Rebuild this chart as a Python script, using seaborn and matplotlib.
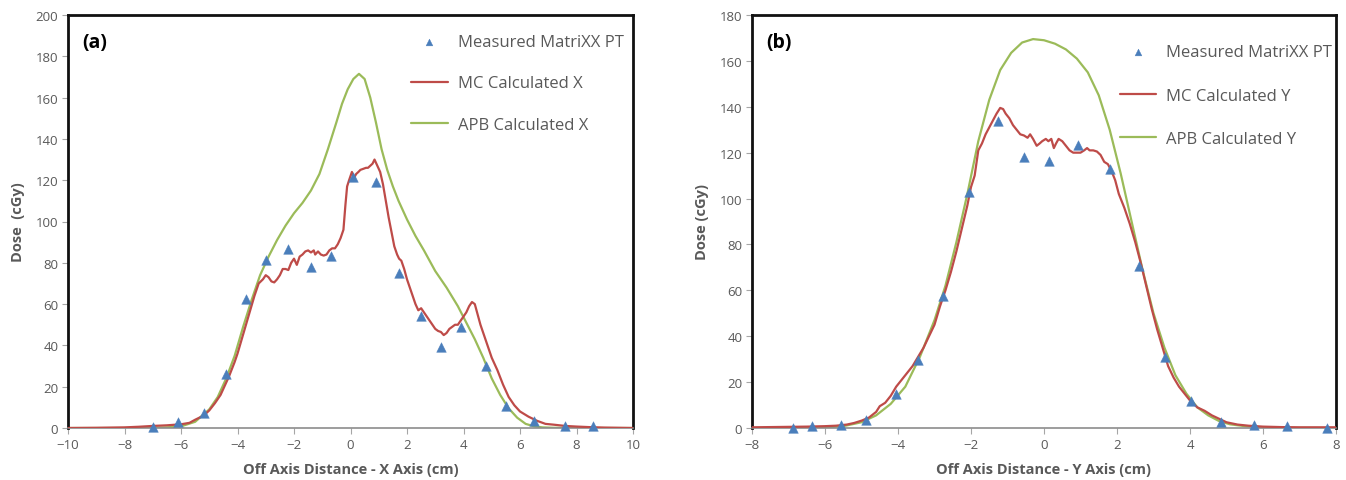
import matplotlib
matplotlib.use("Agg")
import matplotlib.pyplot as plt
import seaborn as sns
import pandas as pd

# ---------------- Panel (a): X axis ----------------
meas_x_pos = [-7.0, -6.1, -5.2, -4.4, -3.7, -3.0, -2.2, -1.4, -0.7, 0.1, 0.9, 1.72,
              2.5, 3.2, 3.9, 4.8, 5.5, 6.5, 7.6, 8.6]
meas_x_dose = [0.6, 2.7, 7.1, 26, 62.5, 81.4, 86.7, 78, 83.3, 121.5, 119, 75,
               54, 39, 49, 30.2, 10.8, 3.5, 0.8, 0.8]

mc_x_pos = [-10, -9, -8, -7.5, -7, -6.5, -6, -5.7, -5.5, -5.2, -5, -4.8, -4.6, -4.5,
            -4.3, -4.1, -4, -3.85, -3.7, -3.55, -3.4, -3.25, -3.1, -3.0, -2.9, -2.8,
            -2.7, -2.6, -2.5, -2.4, -2.3, -2.2, -2.1, -2.0, -1.9, -1.8, -1.7, -1.6,
            -1.5, -1.4, -1.3, -1.25, -1.15, -1.05, -0.95, -0.85, -0.75, -0.65, -0.55,
            -0.45, -0.35, -0.25, -0.18, -0.12, -0.05, 0.05, 0.12, 0.2, 0.28, 0.35,
            0.45, 0.55, 0.62, 0.7, 0.78, 0.85, 0.95, 1.05, 1.15, 1.25, 1.35, 1.45,
            1.55, 1.65, 1.72, 1.8, 1.9, 2.0, 2.1, 2.2, 2.3, 2.4, 2.5, 2.6, 2.7, 2.8,
            2.9, 3.0, 3.1, 3.2, 3.3, 3.4, 3.5, 3.6, 3.7, 3.8, 3.9, 4.0, 4.1, 4.2, 4.3,
            4.4, 4.5, 4.6, 4.8, 5.0, 5.2, 5.4, 5.6, 5.8, 6.0, 6.3, 6.6, 6.9, 7.2, 7.6,
            8.0, 8.5, 9, 10]
mc_x_dose = [0, 0.1, 0.3, 0.6, 1.0, 1.3, 1.8, 2.5, 4, 6, 8.5, 12, 16, 19, 25, 32, 36,
             43, 50, 57, 64, 70, 72, 74, 73, 71, 70.5, 72, 74, 77, 77, 76.5, 80, 82, 79,
             83, 84, 85.5, 86, 85, 86, 84, 85.5, 84, 83.5, 84, 86, 87, 87, 89, 92, 96,
             108, 117, 120, 124, 121, 123, 124, 125, 125.5, 126, 126, 127, 128, 130,
             127, 124, 118, 110, 102, 95, 88, 84, 82, 81, 77, 72, 68, 64, 60, 57, 58,
             56, 54, 52, 50, 48, 47, 46.5, 45, 46, 48, 49, 50, 50, 52, 54, 56, 59, 61,
             60, 55, 50, 42, 34, 28, 21, 15, 11, 8, 5.5, 3.5, 2, 1.6, 1.0, 0.7, 0.4,
             0.2, 0]

apb_x_pos = [-10, -8, -7, -6.5, -6, -5.5, -5, -4.7, -4.4, -4.1, -3.8, -3.5, -3.2,
             -2.9, -2.6, -2.3, -2.0, -1.7, -1.4, -1.1, -0.8, -0.5, -0.3, -0.1, 0.1,
             0.3, 0.5, 0.7, 0.9, 1.1, 1.3, 1.5, 1.7, 2.0, 2.3, 2.6, 3.0, 3.4, 3.8, 4.1,
             4.4, 4.7, 5.0, 5.3, 5.6, 5.9, 6.2, 6.5, 6.8, 7.2, 8, 10]
apb_x_dose = [0, 0, 0.1, 0.3, 0.8, 3, 9, 15, 24, 35, 49, 62, 74, 83, 91, 98, 104,
              109, 115, 123, 135, 148, 157, 164, 169, 171.5, 169, 160, 148, 135, 125,
              117, 110, 101, 93, 86, 76, 68, 59, 51, 43, 34, 24, 16, 9.5, 5, 2, 0.8,
              0.3, 0.1, 0, 0]

# ---------------- Panel (b): Y axis ----------------
meas_y_pos = [-6.89, -6.36, -5.57, -4.87, -4.06, -3.44, -2.77, -2.05, -1.25, -0.56,
              0.14, 0.94, 1.82, 2.61, 3.32, 4.02, 4.85, 5.75, 6.65, 7.75]
meas_y_dose = [0, 0.7, 1.2, 3.6, 14.8, 29.7, 57.5, 102.8, 134, 118.3, 116.3, 123.4,
               113, 70.5, 30.8, 11.7, 2.5, 1.4, 0.7, 0]

mc_y_pos = [-8, -7, -6.5, -6, -5.7, -5.4, -5.2, -5.0, -4.8, -4.6, -4.5, -4.35, -4.2,
            -4.05, -3.9, -3.75, -3.6, -3.45, -3.3, -3.15, -3.0, -2.85, -2.7, -2.55,
            -2.4, -2.25, -2.1, -2.0, -1.9, -1.8, -1.7, -1.6, -1.5, -1.4, -1.3, -1.2,
            -1.12, -1.05, -0.95, -0.85, -0.75, -0.65, -0.55, -0.45, -0.38, -0.3, -0.2,
            -0.12, -0.05, 0.05, 0.12, 0.2, 0.27, 0.33, 0.4, 0.5, 0.6, 0.7, 0.8, 0.9,
            1.0, 1.1, 1.18, 1.25, 1.35, 1.45, 1.55, 1.65, 1.75, 1.85, 1.95, 2.05, 2.2,
            2.35, 2.5, 2.65, 2.8, 2.95, 3.1, 3.25, 3.4, 3.55, 3.7, 3.85, 4.0, 4.2, 4.4,
            4.6, 4.8, 5.0, 5.3, 5.6, 6.0, 6.5, 7, 8]
mc_y_dose = [0.3, 0.5, 0.6, 0.8, 1.0, 1.5, 2.2, 3.2, 4.5, 7, 9.5, 11, 14, 18, 21,
             24, 27, 31, 35, 40, 45, 53, 60, 68, 77, 87, 97, 105, 110, 121, 124,
             128, 131, 134, 137, 139.5, 139, 137, 135, 132, 130, 128, 127.5, 126.5,
             128, 126, 123, 124, 125, 126, 125, 126, 122, 124, 126, 125, 123, 121,
             120, 120, 120, 121, 122, 121, 121, 120.5, 119, 116, 115, 112, 108, 102,
             96, 89, 81, 72, 62, 52, 43, 35, 27, 22, 18, 15, 12, 9, 7.5, 5.5, 4, 2.5,
             1.5, 1.0, 0.6, 0.4, 0.3, 0.3]

apb_y_pos = [-8, -6.5, -6, -5.5, -5.0, -4.6, -4.2, -3.8, -3.4, -3.0, -2.7, -2.4,
             -2.1, -1.8, -1.5, -1.2, -0.9, -0.6, -0.3, 0.0, 0.3, 0.6, 0.9, 1.2, 1.5,
             1.8, 2.1, 2.4, 2.7, 3.0, 3.3, 3.6, 3.9, 4.2, 4.5, 4.8, 5.1, 5.5, 6.0,
             6.5, 8]
apb_y_dose = [0, 0.1, 0.2, 0.8, 2.5, 5.5, 10.5, 18, 31, 47, 62, 81, 102, 125, 143,
              156, 163.5, 168, 169.5, 169, 167.5, 165, 161, 155, 145, 130, 111, 90,
              69, 50, 35, 23, 15, 9, 5.5, 3, 1.6, 0.8, 0.3, 0.1, 0]

# ---------------- Styling ----------------
sns.set_theme(style="white")
plt.rcParams['font.family'] = ['Open Sans', 'DejaVu Sans']

BLUE = "#4A7EBB"
RED = "#BE4B48"
GREEN = "#9BBB59"
GRAY = "#595959"

fig = plt.figure(figsize=(13.46, 4.81), dpi=100)
ax1 = fig.add_axes([68 / 1346, 1 - 429 / 481, (633 - 68) / 1346, (429 - 16) / 481])
ax2 = fig.add_axes([752 / 1346, 1 - 429 / 481, (1336 - 752) / 1346, (429 - 16) / 481])


def draw(ax, mpos, mdose, cpos, cdose, apos, adose, axis_name, xlim, ylim, yticks,
         xticks, tag, dose_label, legend_anchor, labelspacing):
    df_m = pd.DataFrame({"x": mpos, "y": mdose})
    df_c = pd.DataFrame({"x": cpos, "y": cdose})
    df_a = pd.DataFrame({"x": apos, "y": adose})
    sns.lineplot(data=df_a, x="x", y="y", ax=ax, color=GREEN, linewidth=1.6,
                 label=f"APB Calculated {axis_name}", sort=False, zorder=2)
    sns.lineplot(data=df_c, x="x", y="y", ax=ax, color=RED, linewidth=1.6,
                 label=f"MC Calculated {axis_name}", sort=False, zorder=3)
    sns.scatterplot(data=df_m, x="x", y="y", ax=ax, color=BLUE, marker="^", s=48,
                    edgecolor=BLUE, linewidth=0.3, label="Measured MatriXX PT",
                    zorder=4, clip_on=False)
    ax.set_xlim(*xlim)
    ax.set_ylim(*ylim)
    ax.set_xticks(xticks)
    ax.set_yticks(yticks)
    ax.tick_params(axis="both", which="both", direction="out", length=4, width=0.8,
                   colors="#A6A6A6", labelcolor=GRAY, labelsize=9.5, pad=3,
                   bottom=True, left=True)
    for s in ["top", "right", "left"]:
        ax.spines[s].set_color("#111111")
        ax.spines[s].set_linewidth(2.0)
    ax.spines["bottom"].set_color("#8C8C8C")
    ax.spines["bottom"].set_linewidth(1.2)
    ax.set_xlabel(f"Off Axis Distance - {axis_name} Axis (cm)", color=GRAY,
                  fontsize=10.5, fontweight="bold", labelpad=8)
    ax.set_ylabel(dose_label, color=GRAY, fontsize=10.5, fontweight="bold",
                  labelpad=8)
    ax.text(0.025, 0.935, tag, transform=ax.transAxes, fontsize=14,
            fontweight="bold", color="black", va="center", ha="left")
    handles, labels = ax.get_legend_handles_labels()
    order = [2, 1, 0]
    leg = ax.legend([handles[i] for i in order], [labels[i] for i in order],
                    loc="upper right", bbox_to_anchor=legend_anchor, frameon=False,
                    fontsize=12, labelcolor=GRAY, handlelength=2.2,
                    handletextpad=0.6, labelspacing=labelspacing, borderaxespad=0,
                    markerscale=0.7)
    return leg


draw(ax1, meas_x_pos, meas_x_dose, mc_x_pos, mc_x_dose, apb_x_pos, apb_x_dose, "X",
     (-10, 10), (0, 200), list(range(0, 201, 20)), list(range(-10, 11, 2)), "(a)",
     "Dose  (cGy)", (0.995, 0.97), 1.52)
draw(ax2, meas_y_pos, meas_y_dose, mc_y_pos, mc_y_dose, apb_y_pos, apb_y_dose, "Y",
     (-8, 8), (0, 180), list(range(0, 181, 20)), list(range(-8, 9, 2)), "(b)",
     "Dose (cGy)", (1.005, 0.945), 1.63)

fig.savefig("out.png", dpi=100, facecolor="white")
